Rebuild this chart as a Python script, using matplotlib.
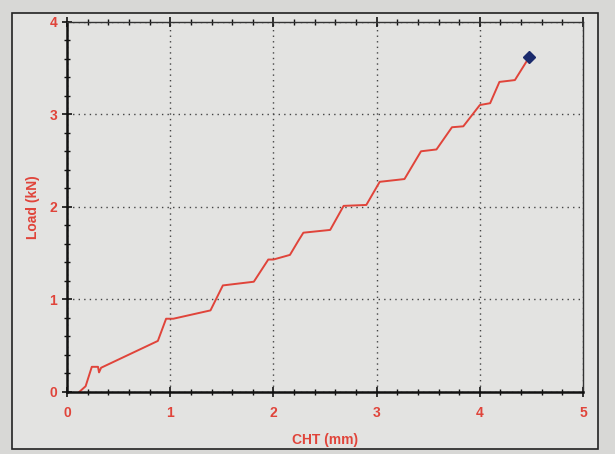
import matplotlib
matplotlib.use("Agg")
import matplotlib.pyplot as plt
from matplotlib.patches import Rectangle
from matplotlib.ticker import MultipleLocator

# Data
cht_mm = [0.12, 0.18, 0.24, 0.30, 0.31, 0.33, 0.88, 0.96, 1.03, 1.39, 1.51, 1.81,
          1.95, 2.00, 2.16, 2.24, 2.29, 2.55, 2.68, 2.90, 3.03, 3.27, 3.43, 3.58,
          3.73, 3.84, 4.00, 4.10, 4.19, 4.34, 4.48]
load_kn = [0.00, 0.06, 0.27, 0.27, 0.21, 0.26, 0.55, 0.79, 0.79, 0.88, 1.15, 1.19,
           1.43, 1.43, 1.48, 1.63, 1.72, 1.75, 2.01, 2.02, 2.27, 2.30, 2.60, 2.62,
           2.86, 2.87, 3.10, 3.12, 3.35, 3.37, 3.62]
end_point = (4.48, 3.62)

x_ticks = [0, 1, 2, 3, 4, 5]
y_ticks = [0, 1, 2, 3, 4]

red = "#e0443a"

fig = plt.figure(figsize=(6.15, 4.54), dpi=100)
fig.patch.set_facecolor("#d8d8d6")
# outer frame
frame = Rectangle((0.0195, 0.011), 0.953, 0.960, transform=fig.transFigure,
                  facecolor="#e3e3e1", edgecolor="#222222", linewidth=1.2, zorder=-5)
fig.patches.append(frame)

ax = fig.add_axes([0.109, 0.137, 0.839, 0.815])
ax.set_zorder(1)
ax.set_facecolor("#e3e3e1")
ax.plot(cht_mm, load_kn, color=red, linewidth=1.4)
ax.plot([end_point[0]], [end_point[1]], marker="D", color="#1a2a6c", markersize=6,
        clip_on=False)

ax.set_xlim(0, 5)
ax.set_ylim(0, 4)
ax.set_xticks(x_ticks)
ax.set_yticks(y_ticks)
ax.xaxis.set_minor_locator(MultipleLocator(0.2))
ax.yaxis.set_minor_locator(MultipleLocator(0.2))
ax.grid(True, which="major", linestyle=(0, (1, 3)), color="#444444", linewidth=1.0)

for s in ["left", "bottom"]:
    ax.spines[s].set_linewidth(1.8)
    ax.spines[s].set_color("#111111")
for s in ["top", "right"]:
    ax.spines[s].set_linewidth(1.0)
    ax.spines[s].set_color("#333333")

ax.tick_params(axis="both", which="major", direction="inout", length=7, width=1.2,
               colors="#111111", labelcolor=red, labelsize=10)
ax.tick_params(axis="x", which="major", pad=7)
ax.tick_params(axis="both", which="minor", direction="inout", length=4, width=1.0,
               colors="#111111")
ax.tick_params(axis="x", which="both", top=True)
for lbl in ax.get_xticklabels() + ax.get_yticklabels():
    lbl.set_fontweight("bold")
    lbl.set_fontfamily("Liberation Sans")

ax.set_xlabel("CHT (mm)", color=red, fontweight="bold", fontsize=10,
              fontfamily="Liberation Sans", labelpad=9)
ax.set_ylabel("Load (kN)", color=red, fontweight="bold", fontsize=10,
              fontfamily="Liberation Sans", labelpad=7)

fig.savefig("out.png", dpi=100, facecolor=fig.get_facecolor())
